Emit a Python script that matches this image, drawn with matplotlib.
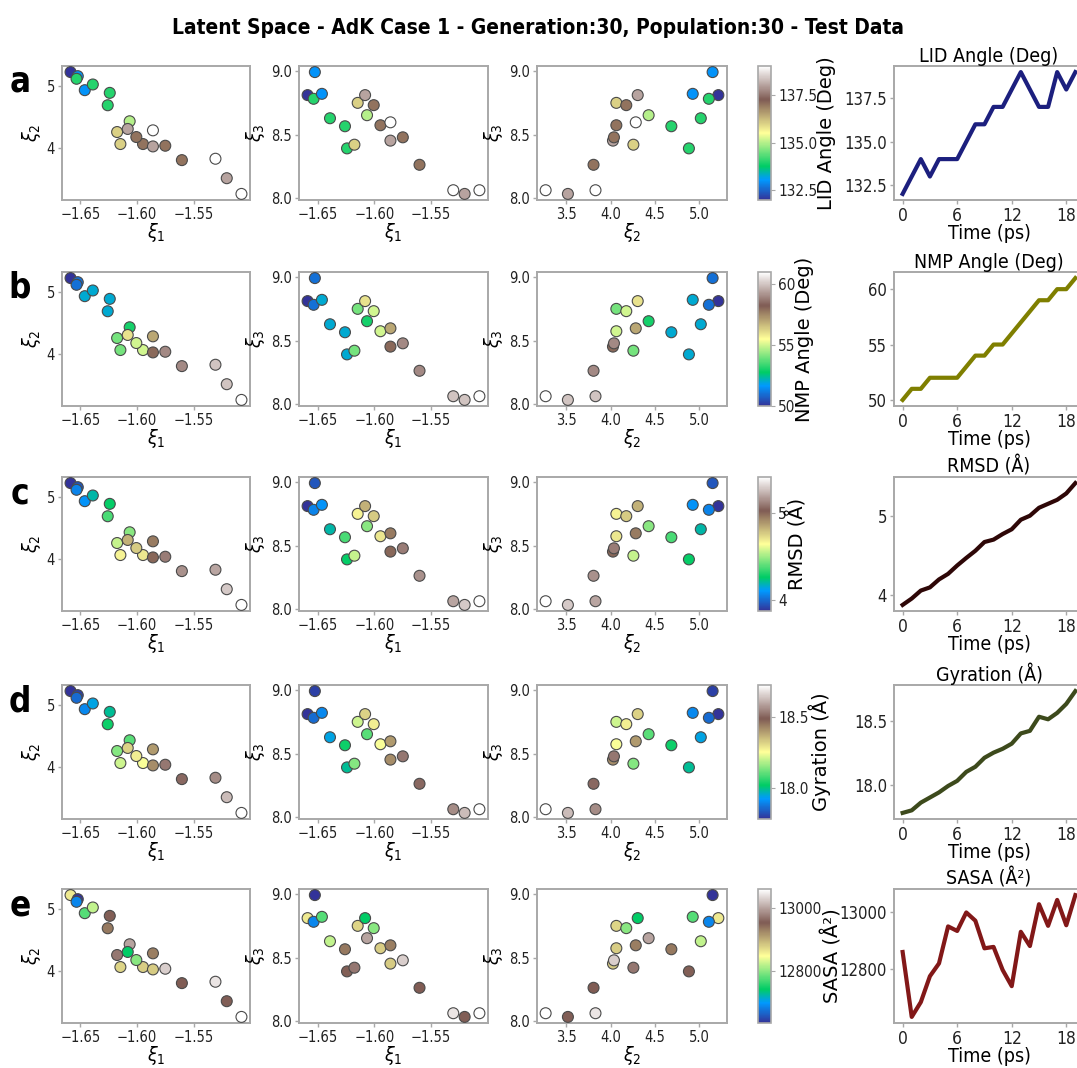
import matplotlib
matplotlib.use("Agg")
import matplotlib.pyplot as plt
import numpy as np

plt.rcParams['font.family'] = ['DejaVu Sans']
plt.rcParams['font.stretch'] = 'condensed'
plt.rcParams['mathtext.fontset'] = 'dejavusans'

# Latent coordinates of the 20 test frames (t = 0..19 ps)
time_ps = list(range(20))
xi1 = [-1.6588, -1.6524, -1.6535, -1.6462, -1.6391, -1.6241, -1.6259, -1.6065, -1.6176, -1.6147,
       -1.5947, -1.6006, -1.6082, -1.5859, -1.5859, -1.5750, -1.5603, -1.5306, -1.5206, -1.5076]
xi2 = [5.215, 5.150, 5.108, 4.926, 5.017, 4.883, 4.685, 4.429, 4.257, 4.065,
       4.065, 4.177, 4.306, 4.284, 4.027, 4.038, 3.808, 3.830, 3.519, 3.268]
xi3 = [8.811, 8.992, 8.782, 8.821, 8.629, 8.392, 8.566, 8.653, 8.421, 8.750,
       8.574, 8.732, 8.811, 8.597, 8.453, 8.479, 8.263, 8.063, 8.034, 8.063]

# Structural properties of each frame
lid_angle = [132, 133, 134, 133, 134, 134, 134, 135, 136, 136,
             137, 137, 138, 139, 138, 137, 137, 139, 138, 139]
nmp_angle = [50, 51, 51, 52, 52, 52, 52, 53, 54, 54,
             55, 55, 56, 57, 58, 59, 59, 60, 60, 61]
rmsd = [3.88, 3.96, 4.06, 4.10, 4.20, 4.27, 4.375, 4.47, 4.56, 4.67,
        4.70, 4.77, 4.83, 4.95, 5.00, 5.10, 5.15, 5.20, 5.28, 5.41]
gyration = [17.78, 17.80, 17.86, 17.90, 17.94, 17.99, 18.03, 18.10, 18.14, 18.21,
            18.25, 18.28, 18.32, 18.40, 18.42, 18.53, 18.51, 18.56, 18.63, 18.73]
sasa = [12861, 12633, 12685, 12776, 12821, 12951, 12935, 13000, 12971, 12874,
        12879, 12798, 12741, 12932, 12882, 13029, 12953, 13044, 12955, 13061]

row_letters = ['a', 'b', 'c', 'd', 'e']
prop_values = [lid_angle, nmp_angle, rmsd, gyration, sasa]
prop_labels = ['LID Angle (Deg)', 'NMP Angle (Deg)', 'RMSD (Å)', 'Gyration (Å)', 'SASA (Å²)']
prop_ticks = [[132.5, 135.0, 137.5], [50, 55, 60], [4, 5], [18.0, 18.5], [12800, 13000]]
tick_fmt = ['{:.1f}', '{:.0f}', '{:.0f}', '{:.1f}', '{:.0f}']
line_colors = ['#1c1f7e', '#7f7f00', '#2e0707', '#3d4a1c', '#821818']

W, H = 1077, 1068
fig = plt.figure(figsize=(W / 100, H / 100), dpi=100)


def add_ax(left, top, width, height):
    return fig.add_axes([left / W, 1 - (top + height) / H, width / W, height / H])


def style_axes(ax, size):
    for sp in ax.spines.values():
        sp.set_color('#a8a8a8')
        sp.set_linewidth(1.4)
    ax.tick_params(colors='#a8a8a8', labelcolor='#222222', labelsize=size, length=3,
                   width=1, pad=2)


row_tops = [66, 272, 477, 685, 889]
row_h = 134
scatter_cols = [(62, 188), (299, 189), (537, 190)]
pairs = [(xi1, xi2, r'$\xi_1$', r'$\xi_2$'),
         (xi1, xi3, r'$\xi_1$', r'$\xi_3$'),
         (xi2, xi3, r'$\xi_2$', r'$\xi_3$')]

fig.text(0.5, 1 - 28 / H,
         'Latent Space - AdK Case 1 - Generation:30, Population:30 - Test Data',
         ha='center', va='center', fontsize=15, fontweight='bold')

for r in range(5):
    top = row_tops[r]
    vals = prop_values[r]
    vmin, vmax = min(vals), max(vals)
    fig.text(20 / W, 1 - (top + 16) / H, row_letters[r], ha='center', va='center',
             fontsize=25, fontweight='bold')
    sc = None
    for c, (left, width) in enumerate(scatter_cols):
        ax = add_ax(left, top, width, row_h)
        xs, ys, xl, yl = pairs[c]
        sc = ax.scatter(xs, ys, c=vals, cmap='terrain', vmin=vmin, vmax=vmax, s=62,
                        edgecolors='#4a4a4a', linewidths=0.8, zorder=3)
        style_axes(ax, 10.5)
        ax.set_xlabel(xl, fontsize=14, labelpad=-1)
        ax.set_ylabel(yl, fontsize=14, labelpad=3)
        if c == 0:
            ax.set_xticks([-1.65, -1.60, -1.55])
            ax.set_yticks([4, 5])
        elif c == 1:
            ax.set_xticks([-1.65, -1.60, -1.55])
            ax.set_yticks([8.0, 8.5, 9.0])
        else:
            ax.set_xticks([3.5, 4.0, 4.5, 5.0])
            ax.set_yticks([8.0, 8.5, 9.0])

    # colour bar for this property
    cax = add_ax(758, top, 13, row_h)
    cb = fig.colorbar(sc, cax=cax)
    cb.set_ticks(prop_ticks[r])
    cb.set_ticklabels([tick_fmt[r].format(t) for t in prop_ticks[r]])
    cb.outline.set_edgecolor('#a8a8a8')
    cb.outline.set_linewidth(1.2)
    cax.tick_params(labelsize=11, length=3, pad=2, colors='#a8a8a8', labelcolor='#222222')
    cb.set_label(prop_labels[r], fontsize=14, fontstretch='normal', labelpad=0)

    # time series of the property
    lax = add_ax(894, top, 190, row_h)
    lax.plot(time_ps, vals, color=line_colors[r], lw=3)
    style_axes(lax, 12)
    lax.set_xticks([0, 6, 12, 18])
    lax.tick_params(axis='x', labelsize=12.5)
    lax.set_yticks(prop_ticks[r])
    lax.set_yticklabels([tick_fmt[r].format(t) for t in prop_ticks[r]])
    lax.set_title(prop_labels[r], fontsize=14, pad=3)
    lax.set_xlabel('Time (ps)', fontsize=14, labelpad=-1)

fig.savefig('out.png', dpi=100)
